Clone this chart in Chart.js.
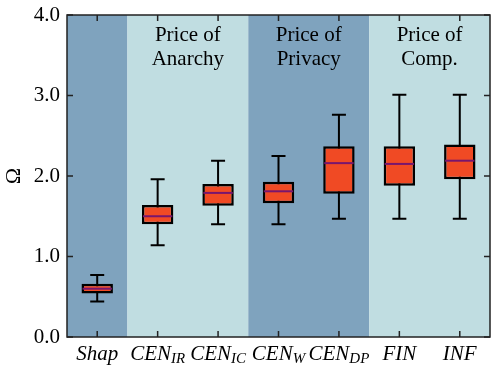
<!DOCTYPE html>
<html>
<head>
<meta charset="utf-8">
<script src="https://cdn.jsdelivr.net/npm/chart.js@4/dist/chart.umd.min.js"></script>
<style>
  html, body { margin: 0; padding: 0; background: #fff; }
  #wrap { width: 498px; height: 371px; }
</style>
</head>
<body>
<div id="wrap"><canvas id="boxChart"></canvas></div>
<script>
// categories: [main text, subscript]
const categories = [["Shap", ""], ["CEN", "IR"], ["CEN", "IC"], ["CEN", "W"], ["CEN", "DP"], ["FIN", ""], ["INF", ""]];
const whiskerLow  = [0.44, 1.14, 1.40, 1.40, 1.47, 1.47, 1.47];
const quart1      = [0.54, 1.40, 1.63, 1.66, 1.78, 1.88, 1.96];
const medians     = [0.60, 1.50, 1.79, 1.81, 2.16, 2.15, 2.19];
const quart3      = [0.66, 1.64, 1.90, 1.93, 2.37, 2.37, 2.39];
const whiskerHigh = [0.77, 1.96, 2.19, 2.25, 2.76, 3.01, 3.01];
const yTicks = [0, 1, 2, 3, 4];

// shaded groups: first index, last index, label lines
const groups = [
    { from: 0, to: 0, color: "#7fa3be", text: [] },
    { from: 1, to: 2, color: "#c0dde1", text: ["Price of", "Anarchy"] },
    { from: 3, to: 4, color: "#7fa3be", text: ["Price of", "Privacy"] },
    { from: 5, to: 6, color: "#c0dde1", text: ["Price of", "Comp."] }
];

const SERIF = "'Liberation Serif', 'DejaVu Serif', serif";

const boxPlugin = {
    id: "boxPlugin",
    beforeDatasetsDraw(chart) {
        const { ctx, chartArea: a, scales: { x, y } } = chart;
        const half = (x.getPixelForValue(1) - x.getPixelForValue(0)) / 2;
        ctx.save();
        // background bands
        groups.forEach(g => {
            const l = Math.max(a.left, x.getPixelForValue(g.from) - half);
            const r = Math.min(a.right, x.getPixelForValue(g.to) + half);
            ctx.fillStyle = g.color;
            ctx.fillRect(l, a.top, r - l, a.bottom - a.top);
        });
        // band labels
        ctx.fillStyle = "#000";
        ctx.font = "21px " + SERIF;
        ctx.textAlign = "center";
        ctx.textBaseline = "alphabetic";
        groups.forEach(g => {
            const cx = (x.getPixelForValue(g.from) + x.getPixelForValue(g.to)) / 2;
            g.text.forEach((t, k) => ctx.fillText(t, cx, a.top + 26 + k * 24));
        });
        // whiskers and caps
        ctx.strokeStyle = "#000";
        ctx.lineWidth = 2;
        categories.forEach((c, i) => {
            const px = x.getPixelForValue(i);
            const lo = y.getPixelForValue(whiskerLow[i]);
            const hi = y.getPixelForValue(whiskerHigh[i]);
            ctx.beginPath();
            ctx.moveTo(px, lo); ctx.lineTo(px, hi);
            ctx.moveTo(px - 7, lo); ctx.lineTo(px + 7, lo);
            ctx.moveTo(px - 7, hi); ctx.lineTo(px + 7, hi);
            ctx.stroke();
        });
        ctx.restore();
    },
    afterDatasetsDraw(chart) {
        const { ctx, scales: { x, y } } = chart;
        const meta = chart.getDatasetMeta(0);
        ctx.save();
        ctx.strokeStyle = "#78166e";
        ctx.lineWidth = 2;
        meta.data.forEach((bar, i) => {
            const py = y.getPixelForValue(medians[i]);
            const w = bar.width / 2 - 1;
            ctx.beginPath();
            ctx.moveTo(bar.x - w, py); ctx.lineTo(bar.x + w, py);
            ctx.stroke();
        });
        ctx.restore();
    },
    afterDraw(chart) {
        const { ctx, chartArea: a, scales: { x, y } } = chart;
        ctx.save();
        ctx.strokeStyle = "#222";
        ctx.lineWidth = 1.5;
        ctx.strokeRect(a.left, a.top, a.right - a.left, a.bottom - a.top);
        // inward ticks on all sides
        ctx.beginPath();
        yTicks.forEach(v => {
            const py = y.getPixelForValue(v);
            ctx.moveTo(a.left, py); ctx.lineTo(a.left + 6, py);
            ctx.moveTo(a.right, py); ctx.lineTo(a.right - 6, py);
        });
        categories.forEach((c, i) => {
            const px = x.getPixelForValue(i);
            ctx.moveTo(px, a.bottom); ctx.lineTo(px, a.bottom - 6);
            ctx.moveTo(px, a.top); ctx.lineTo(px, a.top + 6);
        });
        ctx.stroke();
        // x labels with subscripts
        ctx.fillStyle = "#000";
        ctx.textBaseline = "alphabetic";
        ctx.textAlign = "left";
        categories.forEach((c, i) => {
            const px = x.getPixelForValue(i);
            ctx.font = "italic 21px " + SERIF;
            const wMain = ctx.measureText(c[0]).width;
            ctx.font = "italic 15px " + SERIF;
            const wSub = c[1] ? ctx.measureText(c[1]).width : 0;
            const start = px - (wMain + wSub) / 2;
            ctx.font = "italic 21px " + SERIF;
            ctx.fillText(c[0], start, a.bottom + 23);
            if (c[1]) {
                ctx.font = "italic 15px " + SERIF;
                ctx.fillText(c[1], start + wMain, a.bottom + 26);
            }
        });
        // y title
        ctx.font = "22px " + SERIF;
        ctx.textAlign = "center";
        ctx.textBaseline = "middle";
        ctx.translate(14, (a.top + a.bottom) / 2);
        ctx.rotate(-Math.PI / 2);
        ctx.fillText("Ω", 0, 0);
        ctx.restore();
    }
};

new Chart(document.getElementById("boxChart"), {
    type: "bar",
    data: {
        labels: categories.map(c => c[0] + c[1]),
        datasets: [{
            data: quart1.map((q, i) => [q, quart3[i]]),
            backgroundColor: "#f04a24",
            borderColor: "#000",
            borderWidth: 2.5,
            borderSkipped: false,
            categoryPercentage: 1,
            barPercentage: 0.52
        }]
    },
    options: {
        responsive: true,
        maintainAspectRatio: false,
        animation: false,
        layout: { padding: { top: 15, right: 8, left: 0, bottom: 0 } },
        plugins: { legend: { display: false }, tooltip: { enabled: false } },
        scales: {
            x: {
                grid: { display: false, drawTicks: false },
                border: { display: false },
                ticks: { display: false },
                afterFit(s) { s.height = 34; s.paddingLeft = 0; s.paddingRight = 0; }
            },
            y: {
                min: 0,
                max: 4,
                grid: { display: false, drawTicks: false },
                border: { display: false },
                ticks: {
                    stepSize: 1,
                    padding: 7,
                    color: "#000",
                    font: { family: SERIF, size: 21 },
                    callback: v => v.toFixed(1)
                },
                afterFit(s) { s.width = 67; s.paddingTop = 0; s.paddingBottom = 0; }
            }
        }
    },
    plugins: [boxPlugin]
});
</script>
</body>
</html>
